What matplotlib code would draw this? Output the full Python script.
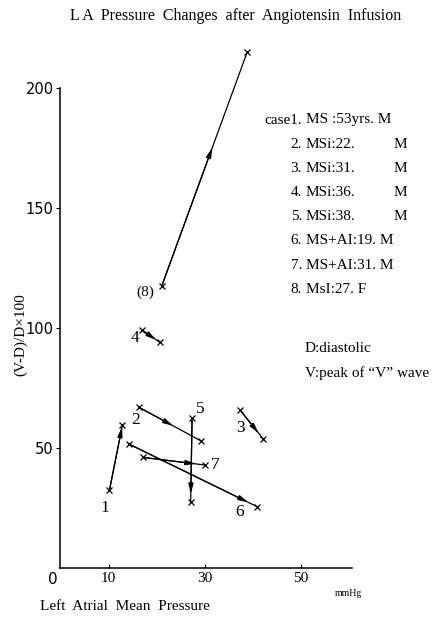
import matplotlib
matplotlib.use('Agg')
import matplotlib.pyplot as plt
import numpy as np

plt.rcParams['font.family'] = ['Liberation Serif', 'DejaVu Serif']

# case data: start -> end of each arrow (mmHg, (V-D)/D x100)
case_labels = ['1', '2', '3', '4', '5', '6', '7', '(8)']
start_x = [10.2, 16.3, 37.4, 16.9, 27.4, 14.2, 17.1, 21.1]
start_y = [32.5, 67.0, 65.8, 99.2, 62.4, 51.7, 46.1, 117.6]
end_x = [12.9, 29.3, 42.2, 20.7, 27.1, 41.0, 30.1, 38.9]
end_y = [59.6, 52.9, 53.8, 94.0, 27.4, 25.5, 42.9, 215.1]

legend_prefix = ['case1.', '2.', '3.', '4.', '5.', '6.', '7.', '8.']
legend_body = ['MS :53yrs. M', 'MSi:22.', 'MSi:31.', 'MSi:36.', 'MSi:38.',
               'MS+AI:19. M', 'MS+AI:31. M', 'MsI:27. F']
legend_sex = ['', 'M', 'M', 'M', 'M', '', '', '']

x_ticks = [10, 30, 50]
y_ticks = [50, 100, 150, 200]

# where the arrow head sits along each segment (fraction)
head_frac = [0.97, 0.55, 0.8, 0.8, 0.9, 0.93, 0.85, 0.59]

W, H = 435, 622
fig = plt.figure(figsize=(W / 100, H / 100), dpi=100)


def px(x, y):
    return x / W, 1 - y / H


ax = fig.add_axes([60.5 / W, 1 - 568 / H, 291.5 / W, 540 / H])
ax.set_xlim(0, 60.7)
ax.set_ylim(0, 225)
ax.spines['top'].set_visible(False)
ax.spines['right'].set_visible(False)
ax.spines['left'].set_bounds(0, 200)
for s in ['left', 'bottom']:
    ax.spines[s].set_linewidth(1.1)

ax.set_xticks(x_ticks)
ax.set_xticklabels([str(t) for t in x_ticks], fontsize=11)
ax.tick_params(axis='x', direction='in', length=3, pad=3)
ax.set_yticks(y_ticks)
ax.set_yticklabels([str(t) for t in y_ticks], fontsize=10.5, family='DejaVu Sans')
ax.tick_params(axis='y', direction='out', length=3, pad=2)

for i in range(len(case_labels)):
    sx, sy, ex, ey = start_x[i], start_y[i], end_x[i], end_y[i]
    ax.plot([sx, ex], [sy, ey], color='black', lw=0.9, clip_on=False)
    ax.plot([sx, ex], [sy, ey], 'x', color='black', ms=4, mew=0.9, clip_on=False)
    f = head_frac[i]
    hx, hy = sx + f * (ex - sx), sy + f * (ey - sy)
    ax.annotate('', xy=(hx, hy), xytext=(sx, sy),
                arrowprops=dict(arrowstyle='-|>,head_length=0.6,head_width=0.15',
                                color='black', lw=0.9, shrinkA=0, shrinkB=0),
                annotation_clip=False)

# case numbers next to the markers
ax.annotate('1', (start_x[0], start_y[0]), xytext=(-3, -13), textcoords='offset points',
            fontsize=12.5, ha='center', va='center')
ax.annotate('2', (start_x[1], start_y[1]), xytext=(-2, -9), textcoords='offset points',
            fontsize=12.5, ha='center', va='center')
ax.annotate('3', (start_x[2], start_y[2]), xytext=(0, -13), textcoords='offset points',
            fontsize=12.5, ha='center', va='center')
ax.annotate('4', (start_x[3], start_y[3]), xytext=(-5, -6), textcoords='offset points',
            fontsize=12.5, ha='center', va='center')
ax.annotate('5', (start_x[4], start_y[4]), xytext=(6, 7), textcoords='offset points',
            fontsize=12.5, ha='center', va='center')
ax.annotate('6', (end_x[5], end_y[5]), xytext=(-13, -4), textcoords='offset points',
            fontsize=12.5, ha='center', va='center')
ax.annotate('7', (end_x[6], end_y[6]), xytext=(7, 0), textcoords='offset points',
            fontsize=12.5, ha='center', va='center')
ax.annotate('(8)', (start_x[7], start_y[7]), xytext=(-12, -5), textcoords='offset points',
            fontsize=11, ha='center', va='center')

# legend block
for i in range(len(legend_prefix)):
    y = 120 + 24.2 * i
    fig.text(*px(302, y), legend_prefix[i], ha='right', va='center', fontsize=11)
    fig.text(*px(306, y), legend_body[i], ha='left', va='center', fontsize=11)
    if legend_sex[i]:
        fig.text(*px(394, y), legend_sex[i], ha='left', va='center', fontsize=11)

fig.text(*px(305, 348), 'D:diastolic', ha='left', va='center', fontsize=11)
fig.text(*px(305, 373), 'V:peak of \u201cV\u201d wave', ha='left', va='center', fontsize=11)

fig.text(*px(236, 16), 'L A  Pressure  Changes  after  Angiotensin  Infusion',
         ha='center', va='center', fontsize=11.5)
fig.text(*px(21, 335), '(V-D)/D\u00d7100', rotation=90, ha='center', va='center', fontsize=11)
fig.text(*px(125, 607), 'Left  Atrial  Mean  Pressure', ha='center', va='center', fontsize=11)
fig.text(*px(53, 579), '0', ha='center', va='center', fontsize=11, family='DejaVu Sans')
fig.text(*px(348, 593), 'mmHg', ha='center', va='center', fontsize=7)

fig.savefig('out.png', dpi=100)
